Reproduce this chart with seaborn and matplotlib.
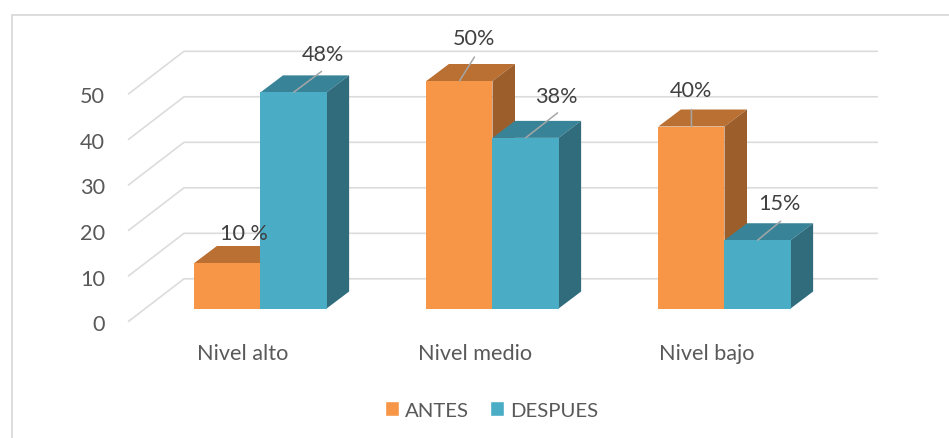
import matplotlib
matplotlib.use("Agg")
import matplotlib.pyplot as plt
import pandas as pd
import seaborn as sns
from matplotlib.patches import Polygon, Rectangle
from matplotlib.transforms import ScaledTranslation

categories = ["Nivel alto", "Nivel medio", "Nivel bajo"]
antes = [10, 50, 40]
despues = [47.5, 37.5, 15]
antes_labels = ["10 %", "50%", "40%"]
despues_labels = ["48%", "38%", "15%"]
y_ticks = [0, 10, 20, 30, 40, 50]

W, H, DPI = 949, 439, 100
sns.set_theme(style="white")
plt.rcParams["font.family"] = ["Lato", "DejaVu Sans"]
FS = 15.6
TXT = "#595959"

fig = plt.figure(figsize=(W / DPI, H / DPI), dpi=DPI, facecolor="white")
# Plot box in pixels: left, right, top, bottom of the front plane
L, R, T, B = 128, 878, 51.5, 309.5
ax = fig.add_axes([L / W, 1 - B / H, (R - L) / W, (B - T) / H])
ax.patch.set_alpha(0)

df = pd.DataFrame({
    "cat": categories * 2,
    "val": antes + despues,
    "serie": ["ANTES"] * 3 + ["DESPUES"] * 3,
})
FRONT = {"ANTES": "#F79646", "DESPUES": "#4BACC6"}
TOP = {"ANTES": "#BA7032", "DESPUES": "#398399"}
SIDE = {"ANTES": "#9C5F2B", "DESPUES": "#306C7C"}
sns.barplot(data=df, x="cat", y="val", hue="serie", palette=FRONT, width=0.57,
            gap=0, saturation=1, ax=ax, dodge=True)

PX_X, PX_Y = 232.0, 4.55           # pixels per data unit
x0 = (L - 260.5) / PX_X
ax.set_xlim(x0, x0 + (R - L) / PX_X)
ax.set_ylim(0, (B - T) / PX_Y)
ax.set_xlabel("")
ax.set_ylabel("")
sns.despine(ax=ax, left=True, bottom=True)

# Back wall grid with its diagonal returns
ax.set_yticks(y_ticks)
wall_dy = 29.7 / PX_Y
back_x = x0 + (184 - L) / PX_X
diag_dy = 43 / PX_Y
for v in y_ticks:
    ax.plot([x0, back_x, x0 + (R - L) / PX_X],
            [v + wall_dy - diag_dy, v + wall_dy, v + wall_dy],
            color="#DCDCDC", lw=1.2, clip_on=False, zorder=1, solid_capstyle="butt")

# Third dimension of every bar
dx, dy = 22.5 / PX_X, 17 / PX_Y
for s, (name, cont) in enumerate(zip(["ANTES", "DESPUES"], ax.containers)):
    for bar in cont:
        xl, w, h = bar.get_x(), bar.get_width(), bar.get_height()
        z = 2 + 2 * s
        bar.set_zorder(z + 1)
        bar.set_clip_on(False)
        bar.set_edgecolor("none")
        ax.add_patch(Polygon([(xl, h), (xl + dx, h + dy), (xl + w + dx, h + dy), (xl + w, h)],
                             fc=TOP[name], ec="none", zorder=z, clip_on=False))
        ax.add_patch(Polygon([(xl + w, 0), (xl + w + dx, dy), (xl + w + dx, h + dy), (xl + w, h)],
                             fc=SIDE[name], ec="none", zorder=z, clip_on=False))

# Data labels: (text offset, leader-line end) in pixels from the middle of the bar top
antes_off = [((16, 30), None), ((15, 43), (15, 24)), ((0, 36), (0, 17))]
despues_off = [((29, 38), (28, 21)), ((31, 42), (32, 25)), ((22, 37), (23, 19))]
for cont, labels, offs in zip(ax.containers, [antes_labels, despues_labels], [antes_off, despues_off]):
    for bar, lab, (t, ln) in zip(cont, labels, offs):
        xy = (bar.get_x() + bar.get_width() / 2, bar.get_height())
        if ln is not None:
            ax.annotate("", xy=xy, xytext=ln, textcoords="offset pixels", zorder=9,
                        annotation_clip=False,
                        arrowprops=dict(arrowstyle="-", color="#A6A6A6", lw=1.1, shrinkA=0, shrinkB=0))
        ax.annotate(lab, xy=xy, xytext=t, textcoords="offset pixels", ha="center", va="center",
                    fontsize=FS, color="#404040", zorder=10, annotation_clip=False)

# Tick labels, shifted to the floor's front edge
ax.tick_params(axis="both", length=0, labelsize=FS, labelcolor=TXT)
ax.tick_params(axis="y", pad=16.5)
ax.tick_params(axis="x", pad=25)
ax.set_yticklabels([str(v) for v in y_ticks])
off_y = ScaledTranslation(0, -13.5 / DPI, fig.dpi_scale_trans)
off_x = ScaledTranslation(-17.5 / DPI, 0, fig.dpi_scale_trans)
for lb in ax.get_yticklabels():
    lb.set_transform(lb.get_transform() + off_y)
for lb in ax.get_xticklabels():
    lb.set_transform(lb.get_transform() + off_x)

sns.move_legend(ax, "center", bbox_to_anchor=(491.5 / W, 1 - 411 / H),
                bbox_transform=fig.transFigure, ncol=2, title=None, frameon=False,
                fontsize=14.7, handlelength=0.686, handleheight=0.686, handletextpad=0.29,
                columnspacing=1.03, labelcolor=TXT)

# Chart-area border: top edge runs off the right of the picture
fig.add_artist(Rectangle((12 / W, -0.05), 1.1, 1.05 - 15.5 / H,
                         transform=fig.transFigure, fc="none", ec="#DADADA", lw=1.3))

fig.savefig("out.png", dpi=DPI)
